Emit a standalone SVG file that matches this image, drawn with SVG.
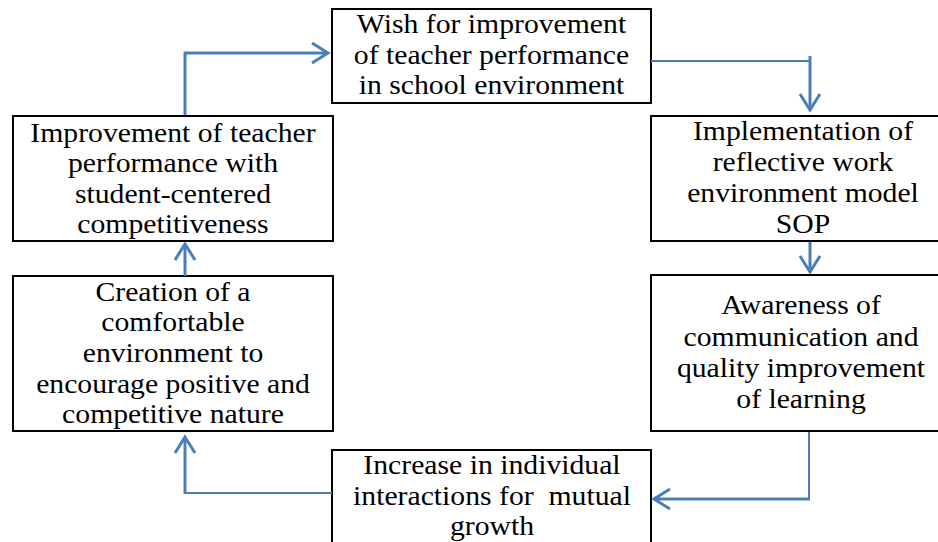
<svg xmlns="http://www.w3.org/2000/svg" width="938" height="542" viewBox="0 0 938 542">
  <style>
    .box { fill: #ffffff; stroke: #000000; stroke-width: 2; }
    .t { font-family: "Liberation Serif", "Times New Roman", serif; font-size: 27px; fill: #000000; text-anchor: middle; }
    .c { fill: none; stroke: #4a7ebb; stroke-width: 3; }
    .cthin { fill: none; stroke: #4a7ebb; stroke-width: 2; }
  </style>
  <defs>
    <marker id="arr" markerUnits="userSpaceOnUse" markerWidth="24" markerHeight="24" viewBox="-20 -12 24 24" refX="0" refY="0" orient="auto" overflow="visible">
      <path d="M-16,-10 L0,0 L-16,10" fill="none" stroke="#4a7ebb" stroke-width="3"/>
    </marker>
  </defs>
  <rect width="938" height="542" fill="#ffffff"/>

  <g id="n-wish">
    <rect class="box" x="332" y="9" width="319" height="94"/>
    <text class="t" transform="translate(491.5,0) scale(1.1,1)"><tspan x="0" y="33">Wish for improvement</tspan><tspan x="0" y="64">of teacher performance</tspan><tspan x="0" y="94">in school environment</tspan></text>
  </g>

  <g id="n-implementation">
    <rect class="box" x="651" y="116" width="310" height="125"/>
    <text class="t" transform="translate(803,0) scale(1.1,1)"><tspan x="0" y="140">Implementation of</tspan><tspan x="0" y="171">reflective work</tspan><tspan x="0" y="202">environment model</tspan><tspan x="0" y="233">SOP</tspan></text>
  </g>

  <g id="n-awareness">
    <rect class="box" x="651" y="275" width="310" height="156"/>
    <text class="t" transform="translate(801,0) scale(1.1,1)"><tspan x="0" y="314">Awareness of</tspan><tspan x="0" y="346">communication and</tspan><tspan x="0" y="377">quality improvement</tspan><tspan x="0" y="408">of learning</tspan></text>
  </g>

  <g id="n-increase">
    <rect class="box" x="332" y="450" width="319" height="110"/>
    <text class="t" transform="translate(492,0) scale(1.1,1)"><tspan x="0" y="474">Increase in individual</tspan><tspan x="0" y="505" xml:space="preserve">interactions for  mutual</tspan><tspan x="0" y="535">growth</tspan></text>
  </g>

  <g id="n-creation">
    <rect class="box" x="13" y="276" width="320" height="155"/>
    <text class="t" transform="translate(173,0) scale(1.1,1)"><tspan x="0" y="301">Creation of a</tspan><tspan x="0" y="331">comfortable</tspan><tspan x="0" y="362">environment to</tspan><tspan x="0" y="393">encourage positive and</tspan><tspan x="0" y="423">competitive nature</tspan></text>
  </g>

  <g id="n-improvement">
    <rect class="box" x="13" y="116" width="320" height="125"/>
    <text class="t" transform="translate(173,0) scale(1.1,1)"><tspan x="0" y="142">Improvement of teacher</tspan><tspan x="0" y="172">performance with</tspan><tspan x="0" y="203">student-centered</tspan><tspan x="0" y="233">competitiveness</tspan></text>
  </g>

  <g id="connectors">
    <path class="c" d="M185,115 V53 H328" marker-end="url(#arr)"/>
    <path class="cthin" d="M651,61 H810"/>
    <path class="c" d="M810,56 V110" marker-end="url(#arr)"/>
    <path class="c" d="M810,242 V272" marker-end="url(#arr)"/>
    <path class="cthin" d="M809,432 V499"/>
    <path class="c" d="M810,499 H654" marker-end="url(#arr)"/>
    <path class="cthin" d="M332,493 H185"/>
    <path class="c" d="M185,494 V437" marker-end="url(#arr)"/>
    <path class="c" d="M185,276 V244" marker-end="url(#arr)"/>
  </g>
</svg>
